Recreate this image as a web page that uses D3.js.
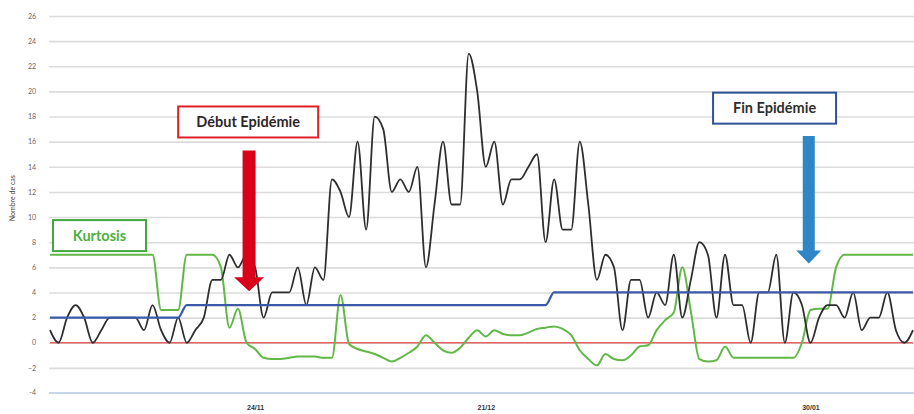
<!DOCTYPE html>
<html>
<head>
<meta charset="utf-8">
<script src="https://cdn.jsdelivr.net/npm/d3@7"></script>
<style>
  html, body { margin: 0; padding: 0; background: #fff; }
  svg { display: block; font-family: Lato, "Open Sans", sans-serif; }
</style>
</head>
<body>
<svg id="chart" width="914" height="414"></svg>
<script>
// daily case counts (black), one value per day
const cases = [1,0,2,3,2,0,1,2,2,2, 2,1,3,1,0,2,0,1,2,5, 5,7,6,7,6,2,4,4,4,6,
  3,6,5,13,12,10,16,9,18,17, 12,13,12,14,6,11,16,11,11,23, 20,14,16,11,13,13,14,15,8,13,
  9,9,16,11,5,7,6,1,5,5, 2,4,3,7,2,5,8,7,2,7, 3,3,0,4,4,7,0,4,3,0,
  2,3,3,2,4,1,2,2,4,1, 0,1];

// kurtosis indicator (green)
const kurtosis = [7,7,7,7,7,7,7,7,7,7, 7,7,7,2.6,2.6,2.6,7,7,7,7,
  6,1.2,2.7,0,-0.5,-1.2,-1.3,-1.3,-1.2,-1.1, -1.1,-1.1,-1.2,-1.2,3.8,-0.1,-0.5,-0.7,-0.9,-1.2,
  -1.5,-1.2,-0.8,-0.3,0.6,0,-0.6,-0.8,-0.4,0.4, 1.0,0.5,1.0,0.7,0.6,0.6,0.8,1.1,1.2,1.3,
  1.1,0.6,-0.6,-1.3,-1.8,-0.9,-1.3,-1.4,-1.0,-0.3, -0.2,1.0,1.8,2.4,6,2.5,-1.3,-1.5,-1.4,-0.3,
  -1.2,-1.2,-1.2,-1.2,-1.2,-1.2,-1.2,-1.2,0,2.6, 2.7,2.7,6,7,7,7,7,7,7,7, 7,7];

// threshold (blue)
const threshold = [2,2,2,2,2,2,2,2,2,2, 2,2,2,2,2,2,3,3,3,3,
  3,3,3,3,3,3,3,3,3,3, 3,3,3,3,3,3,3,3,3,3, 3,3,3,3,3,3,3,3,3,3,
  3,3,3,3,3,3,3,3,3,4, 4,4,4,4,4,4,4,4,4,4, 4,4,4,4,4,4,4,4,4,4,
  4,4,4,4,4,4,4,4,4,4, 4,4,4,4,4,4,4,4,4,4, 4,4];

const yTicks = [-2,0,2,4,6,8,10,12,14,16,18,20,22,24,26];
const xTickIdx = [24, 51, 89];
const xTickLabels = ['24/11', '21/12', '30/01'];

const svg = d3.select('#chart');
const width = 914, height = 414;

const x = d3.scaleLinear().domain([0, cases.length - 1]).range([50, 913]);
const y = d3.scaleLinear().domain([-4, 26]).range([393, 16]);

// gridlines + y labels
const yAxis = svg.append('g')
    .attr('transform', 'translate(49,0)')
    .call(d3.axisLeft(y).tickValues(yTicks).tickSize(-(width - 49)).tickPadding(13));
yAxis.select('.domain').remove();
yAxis.selectAll('line').attr('stroke', '#dcdcdc').attr('stroke-width', 1.6);
yAxis.selectAll('text').attr('fill', '#666').attr('font-size', 7).attr('font-family', 'Lato, sans-serif');
// -4 label (axis line row)
svg.append('text')
    .attr('x', 36).attr('y', y(-4)).attr('dy', '0.32em')
    .attr('text-anchor', 'end').attr('fill', '#666').attr('font-size', 7)
    .text('-4');

// x axis
const xAxis = svg.append('g')
    .attr('transform', `translate(0,${y(-4)})`)
    .call(d3.axisBottom(x).tickValues(xTickIdx).tickSize(0).tickPadding(12)
        .tickFormat((d, i) => xTickLabels[i]));
xAxis.select('.domain').attr('stroke', '#b4c8e2').attr('stroke-width', 1.6)
    .attr('d', `M49,0H${width}`);
xAxis.selectAll('text').attr('fill', '#333').attr('font-size', 7).attr('font-weight', 'bold');

// y title
svg.append('text')
    .attr('transform', `translate(15,${y(11.5)}) rotate(-90)`)
    .attr('text-anchor', 'middle')
    .attr('font-size', 7).attr('fill', '#444')
    .text('Nombre de cas');

// zero line (red)
svg.append('line')
    .attr('x1', x(0)).attr('x2', x(cases.length - 1))
    .attr('y1', y(0)).attr('y2', y(0))
    .attr('stroke', '#e46464').attr('stroke-width', 1.5);

const lineMono = d3.line().x((d, i) => x(i)).y(d => y(d)).curve(d3.curveMonotoneX);

svg.append('path').datum(kurtosis)
    .attr('d', lineMono).attr('fill', 'none')
    .attr('stroke', '#62b846').attr('stroke-width', 2);

svg.append('path').datum(cases)
    .attr('d', lineMono).attr('fill', 'none')
    .attr('stroke', '#2e2e2e').attr('stroke-width', 1.8);

svg.append('path').datum(threshold)
    .attr('d', lineMono).attr('fill', 'none')
    .attr('stroke', '#3a5aa8').attr('stroke-width', 2.2);

// annotation boxes (anchored in data space)
const boxes = [
  { label: 'Kurtosis', i: 0.35, v: 9.76, w: 93, h: 31, stroke: '#40a83c', color: '#4db142', size: 14.5 },
  { label: 'Début Epidémie', i: 15, v: 18.8, w: 140, h: 31, stroke: '#e0202a', color: '#2f2626', size: 14.5 },
  { label: 'Fin Epidémie', i: 77.6, v: 19.9, w: 123, h: 31, stroke: '#2f5496', color: '#2f2f2f', size: 14.5 }
];
const box = svg.append('g').selectAll('g').data(boxes).join('g')
    .attr('transform', d => `translate(${x(d.i)},${y(d.v)})`);
box.append('rect')
    .attr('width', d => d.w).attr('height', d => d.h)
    .attr('fill', '#fff').attr('stroke', d => d.stroke).attr('stroke-width', 2);
box.append('text')
    .attr('x', d => d.w / 2).attr('y', d => d.h / 2).attr('dy', '0.36em')
    .attr('text-anchor', 'middle').attr('font-weight', 'bold')
    .attr('font-size', d => d.size).attr('fill', d => d.color)
    .text(d => d.label);

// arrows
const arrows = [
  { i: 23.3, top: 15.3, tip: 4.1, shaft: 6.5, head: 15, headH: 14, fill: '#d9001b' },
  { i: 88.8, top: 16.45, tip: 6.3, shaft: 6, head: 12.5, headH: 13, fill: '#2f86c6' }
];
svg.append('g').selectAll('path').data(arrows).join('path')
    .attr('fill', d => d.fill)
    .attr('d', d => {
      const cx = x(d.i), t = y(d.top), p = y(d.tip), b = p - d.headH;
      return `M${cx - d.shaft},${t}H${cx + d.shaft}V${b}H${cx + d.head}L${cx},${p}L${cx - d.head},${b}H${cx - d.shaft}Z`;
    });
</script>
</body>
</html>
